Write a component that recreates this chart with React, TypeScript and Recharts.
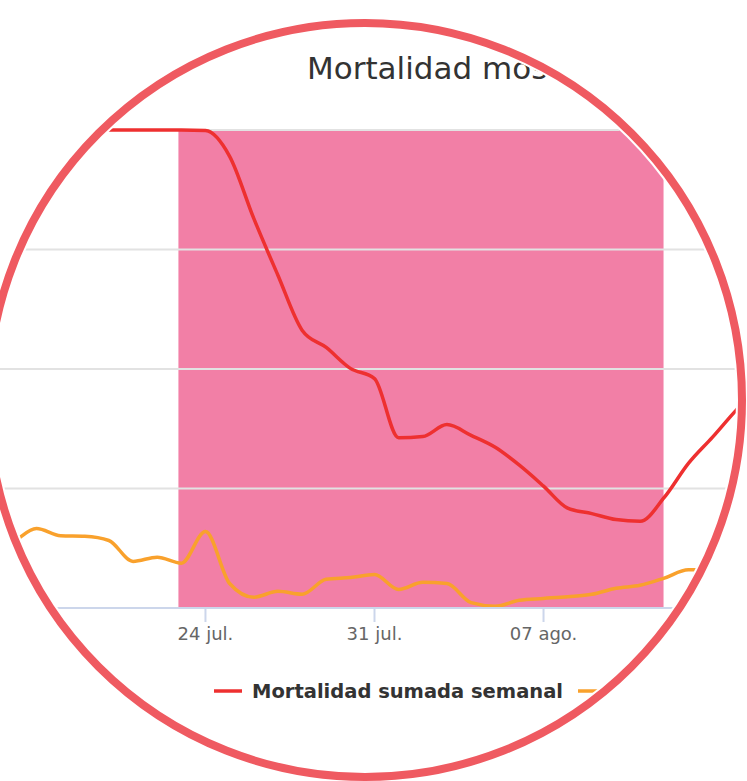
import { LineChart, Line, XAxis, YAxis, ReferenceArea, ReferenceLine } from 'recharts';

// días relativos al 24 jul. (0 = 24 jul.)
const DIAS_SEMANAL = [-9, -8, -7, -6, -5, -4, -3, -2, -1, 0, 1, 2, 3, 4, 5, 6, 7, 8, 9, 10, 11, 12, 13, 14, 15, 16, 17, 18, 19, 20, 21, 22, 23];
const SUMADA_SEMANAL = [400, 400, 400, 400, 400, 400, 400, 400, 400, 399.5, 378, 326, 278.5, 232.5, 218, 200.5, 192, 142.5, 143.5, 153.5, 144.5, 134.5, 119.5, 102, 83.5, 79, 74, 72.5, 92.5, 121, 143, 166, 186];

const DIAS_DIARIA = [-9, -8, -7, -6, -5, -4, -3, -2, -1, 0, 1, 2, 3, 4, 5, 6, 7, 8, 9, 10, 11, 12, 13, 14, 15, 16, 17, 18, 19, 20, 20.4];
const DIARIA = [48, 55, 66.5, 60.5, 60, 56.5, 39, 42.5, 37.5, 64, 20.5, 9, 14, 11.5, 24, 25.5, 28, 15.5, 21.5, 20.5, 4.5, 1.5, 6.5, 8, 9.5, 11.5, 16.5, 19, 25, 32, 32];

const TICK_DIAS = [0, 7, 14];
const TICK_LABELS = ['24 jul.', '31 jul.', '07 ago.'];
const Y_TICKS = [0, 100, 200, 300, 400];
const BANDA = [-1.12, 18.97];

const COLORS = {
  semanal: '#EE3030',
  diaria: '#F9A12C',
  banda: '#F27FA6',
  aro: '#EF5A61',
  grid: '#e2e2e2',
  axis: '#ccd6eb',
};

const semanalData = DIAS_SEMANAL.map((d, i) => ({ d, v: SUMADA_SEMANAL[i] }));
const diariaData = DIAS_DIARIA.map((d, i) => ({ d, v: DIARIA[i] }));

const FONT = "'DejaVu Sans', sans-serif";

export default function App() {
  return (
    <div style={{ position: 'fixed', left: 0, top: 0, width: 747, height: 781, background: '#fff', overflow: 'hidden' }}>
      {/* recorte circular */}
      <div
        style={{
          position: 'absolute',
          left: -6,
          top: 29,
          width: 742,
          height: 742,
          borderRadius: '50%',
          overflow: 'hidden',
        }}
      >
        <div style={{ position: 'absolute', left: 6, top: -29, width: 747, height: 781 }}>
          <div style={{ position: 'absolute', left: -36.4, top: 120 }}>
            <LineChart
              width={821}
              height={528}
              margin={{ top: 10, right: 0, left: 0, bottom: 0 }}
              style={{ fontFamily: FONT }}
            >
              <XAxis
                dataKey="d"
                type="number"
                domain={[-10, 24]}
                ticks={TICK_DIAS}
                tickFormatter={(v: number) => TICK_LABELS[TICK_DIAS.indexOf(v)] ?? ''}
                allowDataOverflow
                height={40}
                tickSize={14}
                tickMargin={5}
                axisLine={{ stroke: COLORS.axis, strokeWidth: 2 }}
                tickLine={{ stroke: COLORS.axis, strokeWidth: 2 }}
                tick={{ fill: '#666666', fontSize: 18, fontFamily: FONT }}
              />
              <YAxis hide domain={[0, 400]} ticks={Y_TICKS} />
              <ReferenceArea x1={BANDA[0]} x2={BANDA[1]} fill={COLORS.banda} fillOpacity={1} stroke="none" />
              {Y_TICKS.slice(1).map((t) => (
                <ReferenceLine key={t} y={t} stroke={COLORS.grid} strokeWidth={2} />
              ))}
              <Line
                data={diariaData}
                dataKey="v"
                type="monotone"
                stroke={COLORS.diaria}
                strokeWidth={3.5}
                dot={false}
                isAnimationActive={false}
              />
              <Line
                data={semanalData}
                dataKey="v"
                type="monotone"
                stroke={COLORS.semanal}
                strokeWidth={3.5}
                dot={false}
                isAnimationActive={false}
              />
            </LineChart>
          </div>

          {/* título y leyenda */}
          <svg width={747} height={781} style={{ position: 'absolute', left: 0, top: 0, pointerEvents: 'none' }}>
            <text x={307} y={79} fontFamily={FONT} fontSize={31} fill="#333333">
              Mortalidad mostrada
            </text>
            <line x1={214} x2={242} y1={691} y2={691} stroke={COLORS.semanal} strokeWidth={3.5} />
            <text x={252} y={698} fontFamily={FONT} fontSize={19.5} fontWeight="bold" fill="#333333">
              Mortalidad sumada semanal
            </text>
            <line x1={578} x2={606} y1={691} y2={691} stroke={COLORS.diaria} strokeWidth={3.5} />
            <text x={616} y={698} fontFamily={FONT} fontSize={19.5} fontWeight="bold" fill="#333333">
              Mortalidad diaria
            </text>
          </svg>
        </div>
      </div>

      {/* aro */}
      <div
        style={{
          position: 'absolute',
          left: -16,
          top: 19,
          width: 762,
          height: 762,
          border: `8px solid ${COLORS.aro}`,
          borderRadius: '50%',
          boxSizing: 'border-box',
        }}
      />
    </div>
  );
}
